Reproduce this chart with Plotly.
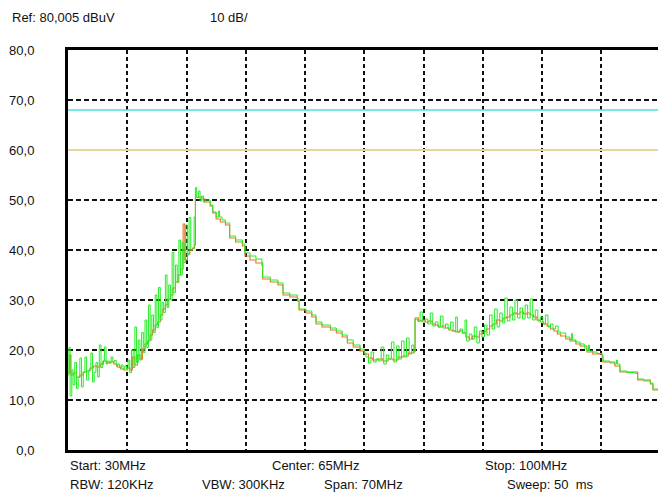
import plotly.graph_objects as go

# Trace data (frequency in MHz, level in dBuV)
green_mhz = [
    30.0, 30.1, 30.25, 30.45, 30.6, 30.8, 31.0, 31.2, 31.4, 31.6, 31.8, 32.0, 32.2, 32.45, 32.7, 32.9,
    33.1, 33.3, 33.5, 33.7, 33.9, 34.1, 34.3, 34.5, 34.7, 34.9, 35.1, 35.3, 35.5, 35.7, 35.9, 36.1,
    36.3, 36.5, 36.7, 36.9,
    37.1, 37.3, 37.5, 37.7, 37.9, 38.1, 38.3, 38.5, 38.7, 38.9, 39.1, 39.3, 39.5, 39.7, 39.9, 40.1,
    40.3, 40.5, 40.7, 40.9, 41.1, 41.3, 41.5, 41.7, 41.9, 42.1, 42.3, 42.5, 42.7, 42.9, 43.1, 43.3,
    43.5, 43.7, 43.9, 44.1, 44.3, 44.5, 44.7, 44.9, 45.05, 45.2, 45.4, 45.6,
    45.8, 46.0, 46.2, 46.8, 47.1, 47.5, 47.8, 47.9, 48.2, 48.6, 49.1, 49.8, 50.6, 50.9, 51.5, 52.2,
    52.9, 53.0, 53.9, 54.8, 55.4, 56.2, 57.1, 57.3, 58.1, 58.8, 59.3, 60.0, 61.0, 61.7, 62.4, 63.0,
    63.7, 64.5,
    65.0, 65.2, 65.5, 65.8, 66.1, 66.4, 66.7, 67.0, 67.3, 67.6, 67.9, 68.2, 68.5, 68.8, 69.1, 69.4,
    69.7, 70.0, 70.3, 70.6, 70.85,
    71.0, 71.3, 71.6, 71.9, 72.2, 72.5, 72.8, 73.1, 73.4, 73.7, 74.0, 74.3, 74.6, 74.9, 75.2,
    75.5, 75.8, 76.0, 76.3, 76.6, 76.9, 77.1, 77.4, 77.7, 78.0, 78.3, 78.6, 78.9, 79.2, 79.5, 79.8,
    80.1, 80.4, 80.7, 81.0, 81.3, 81.6, 81.9, 82.2, 82.5, 82.8, 83.1, 83.4, 83.7, 84.0, 84.3, 84.6,
    84.9, 85.2, 85.5, 85.8, 86.1, 86.4, 86.7, 87.0, 87.3, 87.6, 87.9,
    88.2, 88.8, 89.3, 89.5, 89.6, 90.0, 90.5, 91.0, 91.3, 91.5, 91.6, 92.0, 92.5, 93.1, 93.2, 94.0,
    94.6, 94.8, 94.9, 95.2, 96.0, 97.0, 97.3, 98.0, 98.8, 99.1, 100.0,
]
green_dbuv = [
    15.0, 20.5, 10.8, 16.0, 13.0, 17.5, 12.3, 14.5, 18.4, 12.6, 15.5, 18.6, 14.0, 16.0, 19.4, 13.6,
    15.5, 17.5, 14.6, 21.0, 16.5, 17.8, 20.6, 17.2, 17.8, 17.4, 18.6, 17.6, 17.9, 16.8, 17.2, 16.4,
    17.0, 16.3, 16.8, 16.2,
    18.0, 15.5, 20.0, 16.5, 24.6, 17.5, 22.0, 18.0, 23.5, 19.5, 26.0, 20.5, 29.0, 22.0, 27.0, 23.5,
    31.0, 24.5, 32.5, 26.0, 29.5, 27.5, 35.0, 28.5, 33.0, 30.0, 39.5, 31.5, 37.0, 33.5, 42.0, 35.0,
    41.5, 37.5, 45.0, 39.0, 46.5, 40.0, 40.2, 46.6, 52.5, 50.5, 51.8, 49.8,
    50.8, 49.6, 50.0, 49.0, 47.6, 46.6, 47.8, 46.6, 46.0, 45.4, 42.8, 42.0, 41.2, 39.4, 38.8, 38.2,
    37.6, 34.6, 34.0, 33.4, 31.4, 31.0, 30.2, 28.2, 27.8, 27.0, 25.6, 25.0, 24.4, 23.8, 23.0, 22.0,
    21.0, 20.2,
    19.4, 18.6, 17.4, 19.6, 17.6, 18.2, 17.8, 20.6, 17.2, 19.0, 18.2, 21.6, 17.6, 20.8, 18.2, 21.8,
    18.6, 22.4, 19.2, 21.0, 19.6,
    26.2, 25.8, 27.6, 25.6, 26.2, 25.2, 27.4, 24.8, 25.6, 24.6, 26.8, 24.4, 25.2, 24.2, 25.6,
    23.8, 26.6, 23.6, 24.2, 23.4, 26.0, 21.8, 23.2, 22.2, 24.6, 21.4, 23.8, 22.6, 25.0, 23.0, 27.0,
    24.2, 28.2, 24.6, 27.4, 25.4, 30.4, 25.8, 28.6, 26.0, 30.0, 26.4, 28.4, 26.2, 29.0, 26.4, 30.2,
    26.0, 28.0, 25.8, 26.6, 25.2, 27.0, 24.6, 25.2, 24.2, 24.8, 23.6,
    23.4, 22.6, 22.0, 23.3, 22.0, 21.6, 21.2, 20.4, 19.8, 21.0, 19.8, 19.6, 19.3, 19.0, 17.8, 17.4,
    17.2, 18.0, 17.2, 15.8, 15.5, 15.3, 14.2, 13.8, 13.4, 12.2, 11.6,
]

orange_mhz = [
    30.0, 30.2, 30.35, 30.6, 31.0, 31.4, 31.8, 32.2, 32.6, 33.0, 33.4, 33.8, 34.2, 34.6, 35.0, 35.4,
    35.8, 36.2, 36.6, 37.0,
    37.3, 37.6, 37.9, 38.2, 38.5, 38.8, 39.1, 39.4, 39.7, 40.0, 40.3, 40.6, 40.9, 41.2, 41.5, 41.8,
    42.1, 42.4, 42.7, 43.0, 43.3, 43.6, 43.8, 44.1, 44.4, 44.7, 44.95,
    45.05, 45.4, 45.8, 46.2, 46.8, 47.1, 47.5, 48.0, 48.6, 49.1, 49.8, 50.6, 50.9, 51.5, 52.2, 52.9,
    53.0, 53.9, 54.8, 55.4, 56.2, 57.1, 57.3, 58.1, 58.8, 59.3, 60.0, 61.0, 61.7, 62.4, 63.0, 63.7,
    64.5,
    65.0, 65.5, 66.0, 66.6, 67.2, 67.8, 68.4, 69.0, 69.6, 70.2, 70.85,
    71.0, 71.4, 71.8, 72.2, 72.6, 73.0, 73.4, 73.8, 74.2, 74.6, 75.0, 75.4, 75.8, 76.2, 76.6, 77.0,
    77.4, 77.8, 78.2, 78.6, 79.0, 79.4, 79.8, 80.2, 80.6, 81.0, 81.4, 81.8, 82.2, 82.6, 83.0, 83.4,
    83.8, 84.2, 84.6, 85.0, 85.4, 85.8, 86.2, 86.6, 87.0, 87.4, 87.8,
    88.2, 88.8, 89.3, 90.0, 90.5, 91.3, 92.0, 93.1, 93.2, 94.6, 95.2, 97.3, 98.8, 99.1, 100.0,
]
orange_dbuv = [
    15.5, 19.0, 15.0, 15.4, 14.6, 15.0, 15.6, 15.8, 16.4, 16.8, 16.6, 17.2, 17.8, 17.4, 17.6, 17.2,
    16.6, 16.2, 16.0, 16.4,
    16.0, 18.6, 17.0, 19.0, 18.2, 20.2, 21.2, 21.8, 23.0, 24.0, 25.0, 25.6, 27.0, 28.2, 29.0, 30.2,
    31.0, 32.4, 33.6, 35.0, 36.2, 45.2, 38.0, 39.2, 40.0, 40.4, 41.0,
    50.5, 50.6, 50.2, 49.6, 48.8, 47.4, 46.2, 45.6, 45.0, 42.4, 41.6, 40.8, 38.8, 38.0, 37.4, 37.0,
    34.2, 33.6, 33.0, 31.0, 30.6, 29.8, 28.0, 27.4, 26.6, 25.2, 24.6, 24.0, 23.4, 22.6, 21.4, 20.6,
    19.8,
    19.2, 18.4, 18.0, 18.2, 17.8, 18.2, 18.0, 18.6, 18.8, 19.4, 19.8,
    26.4, 25.8, 26.0, 25.6, 25.8, 25.2, 25.0, 24.6, 24.8, 24.4, 24.0, 23.8, 23.6, 23.8, 23.4, 22.6,
    22.2, 22.8, 22.6, 23.2, 23.6, 24.2, 24.8, 25.2, 26.0, 25.8, 26.4, 26.6, 27.0, 27.4, 27.2, 27.6,
    27.2, 27.4, 27.0, 26.6, 26.0, 25.6, 25.2, 24.8, 24.2, 23.8, 23.2,
    22.8, 22.2, 21.8, 21.2, 20.8, 19.6, 19.2, 18.6, 17.6, 16.8, 15.6, 14.0, 13.2, 12.0, 11.2,
]

limit_upper = 68.0
limit_lower = 60.0
span_mhz = [30.0, 100.0]

y_ticks = [0, 10, 20, 30, 40, 50, 60, 70, 80]
y_labels = ["0,0", "10,0", "20,0", "30,0", "40,0", "50,0", "60,0", "70,0", "80,0"]

header_texts = ["Ref: 80,005 dBuV", "10 dB/"]
footer_row1 = ["Start: 30MHz", "Center: 65MHz", "Stop: 100MHz"]
footer_row2 = ["RBW: 120KHz", "VBW: 300KHz", "Span: 70MHz", "Sweep: 50\u00a0 ms"]

W, H = 658, 493
L, T, B = 68, 50, 450
FONT = "Liberation Sans, Arial, sans-serif"


def px(x):
    return (x - L) / (W - L)


def py(y):
    return (B - y) / (B - T)


fig = go.Figure()

# limit lines
fig.add_trace(go.Scatter(x=span_mhz, y=[limit_upper] * 2, mode="lines",
                         line=dict(color="#48e2dc", width=1.5), hoverinfo="skip"))
fig.add_trace(go.Scatter(x=span_mhz, y=[limit_lower] * 2, mode="lines",
                         line=dict(color="#ecd2a0", width=2), hoverinfo="skip"))

# measured traces
fig.add_trace(go.Scatter(x=orange_mhz, y=orange_dbuv, mode="lines", line_shape="hv",
                         line=dict(color="#e8742a", width=1.1)))
fig.add_trace(go.Scatter(x=green_mhz, y=green_dbuv, mode="lines", line_shape="hv",
                         line=dict(color="#22ee22", width=1)))

annotations = []
for text, x in zip(header_texts, [10, 208]):
    annotations.append(dict(text=text, x=px(x), y=py(18)))
for text, x in zip(footer_row1, [68, 270, 483]):
    annotations.append(dict(text=text, x=px(x), y=py(465)))
for text, x in zip(footer_row2, [68, 200, 322, 505]):
    annotations.append(dict(text=text, x=px(x), y=py(485)))
for a in annotations:
    a.update(xref="paper", yref="paper", xanchor="left", yanchor="middle",
             showarrow=False, font=dict(family=FONT, size=13, color="#111"))

fig.update_layout(
    width=W, height=H,
    margin=dict(l=L, r=0, t=T, b=H - B, pad=0),
    paper_bgcolor="white", plot_bgcolor="white",
    showlegend=False,
    annotations=annotations,
    font=dict(family=FONT, size=13, color="#111"),
)
fig.update_xaxes(
    range=[30, 99.7], tick0=30, dtick=7, showticklabels=False, ticks="",
    showgrid=True, gridcolor="#111", gridwidth=1.5, griddash="4px,3px",
    showline=True, linecolor="black", linewidth=3, mirror=True, zeroline=False,
)
fig.update_yaxes(
    range=[0, 80], tickvals=y_ticks, ticktext=y_labels, ticks="",
    ticklabelstandoff=28,
    showgrid=True, gridcolor="#111", gridwidth=1.5, griddash="5px,3px",
    showline=True, linecolor="black", linewidth=3, zeroline=False,
)

# the page body has a default margin; drop it so the figure fills the window
fig.write_html(
    "out.html",
    config={"displayModeBar": False},
    post_script="document.body.style.margin='0';document.body.style.overflow='hidden';",
)
